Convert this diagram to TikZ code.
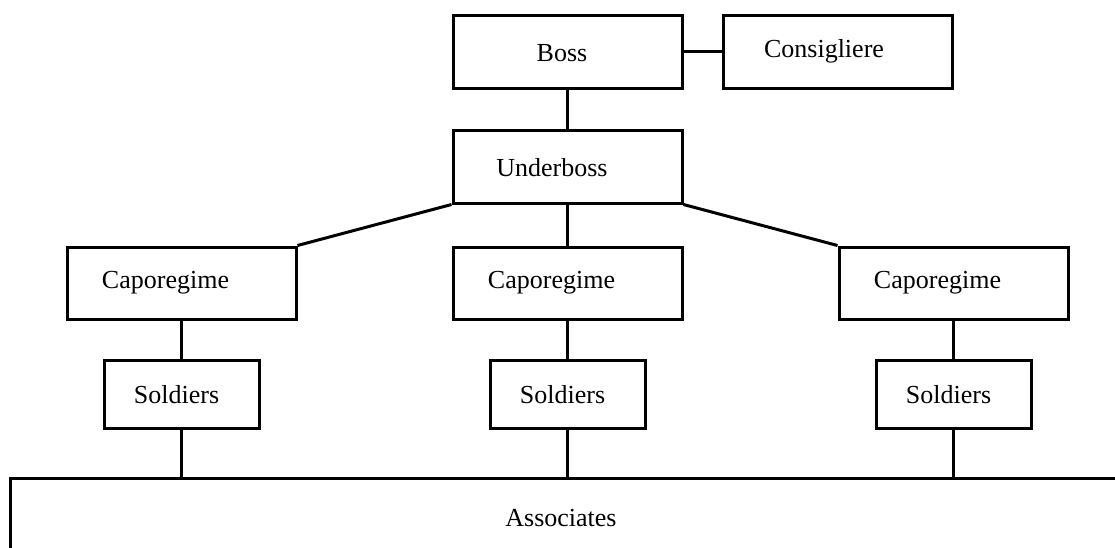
\documentclass[tikz,border=0pt]{standalone}
\usepackage{fontspec}
\setmainfont{Liberation Serif}
\begin{document}
\begin{tikzpicture}[x=1pt,y=-1pt,
  box/.style={draw=black, line width=3pt, fill=white, rectangle, inner sep=0pt,
    font=\fontsize{26}{30}\selectfont},
  big/.style={box, minimum width=229pt, minimum height=73pt},
  small/.style={box, minimum width=155pt, minimum height=68pt},
  conn/.style={draw=black, line width=3pt}]
\clip (0,0) rectangle (1115,547);
\fill[white] (0,0) rectangle (1115,547);
\node[big] (boss) at (567.5,51.5) {}; 
\node[font=\fontsize{26}{30}\selectfont] (bosst) at (562,53) {Boss};
\node[big] (cons) at (837.5,51.5) {};
\node[font=\fontsize{26}{30}\selectfont] (const) at (824,51) {Consigliere};
\node[big] (under) at (567.5,166.5) {};
\node[font=\fontsize{26}{30}\selectfont] (undert) at (552,168) {Underboss};
\node[big, minimum height=72pt] (c1) at (181.5,283) {};
\node[big, minimum height=72pt] (c2) at (567.5,283) {};
\node[big, minimum height=72pt] (c3) at (953.5,283) {};
\foreach \n/\x in {c1/165.5,c2/551.5,c3/937.5}
  \node[font=\fontsize{26}{30}\selectfont] (\n t) at (\x,283) {Caporegime};
\node[small] (s1) at (181.5,394) {};
\node[small] (s2) at (567.5,394) {};
\node[small] (s3) at (953.5,394) {};
\foreach \n/\x in {s1/176.5,s2/562.5,s3/948.5}
  \node[font=\fontsize{26}{30}\selectfont] (\n t) at (\x,395) {Soldiers};
\node[box, minimum width=1125pt, minimum height=90pt] (assoc) at (572.5,523) {};
\node[font=\fontsize{26}{30}\selectfont] (assoct) at (561,518) {Associates};
\draw[conn] (boss.east) -- (cons.west);
\draw[conn] (boss.south) -- (under.north);
\draw[conn] (under.south) -- (c2.north);
\draw[conn] (under.south west) -- (c1.north east);
\draw[conn] (under.south east) -- (c3.north west);
\foreach \i in {1,2,3} {
  \draw[conn] (c\i.south) -- (s\i.north);
  \draw[conn] (s\i.south) -- (s\i.south |- assoc.north);
}
\end{tikzpicture}
\end{document}
